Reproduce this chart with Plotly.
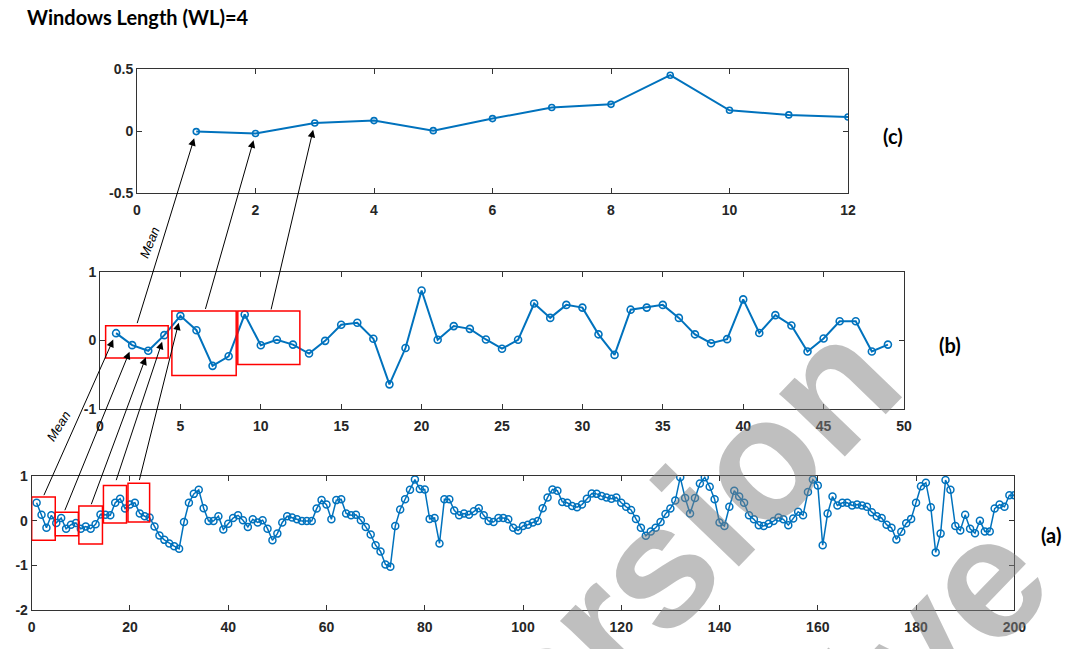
import plotly.graph_objects as go

# ---------------- data ----------------
c_x = list(range(1, 13))
c_vals = [-0.005, -0.02, 0.065, 0.084, 0.003, 0.10, 0.19, 0.215, 0.45, 0.167, 0.13, 0.113]

b_x = list(range(1, 50))
b_vals = [0.107, -0.068, -0.15, 0.078, 0.36, 0.15, -0.37, -0.23, 0.38, -0.07,
          0.01, -0.06, -0.19, -0.005, 0.23, 0.26, 0.025, -0.64, -0.11, 0.73,
          0.01, 0.21, 0.17, 0.015, -0.12, 0.01, 0.54, 0.33, 0.52, 0.48,
          0.09, -0.21, 0.45, 0.48, 0.52, 0.33, 0.09, -0.04, 0.02, 0.60,
          0.11, 0.37, 0.22, -0.16, 0.03, 0.28, 0.28, -0.16, -0.06]

a_x = list(range(1, 201))
a_vals = [0.40, 0.13, -0.16, 0.12, -0.05, 0.06, -0.18, -0.09, -0.05, -0.18,
          -0.13, -0.18, -0.08, 0.14, 0.13, 0.12, 0.40, 0.49, 0.27, 0.36,
          0.40, 0.16, 0.10, 0.07, -0.13, -0.33, -0.43, -0.51, -0.57, -0.63,
          -0.03, 0.40, 0.60, 0.69, 0.28, -0.01, -0.01, 0.10, -0.20, -0.07,
          0.06, 0.12, 0.01, -0.14, 0.03, -0.04, 0.01, -0.18, -0.44, -0.29,
          -0.04, 0.10, 0.07, 0.03, -0.01, -0.01, -0.01, 0.27, 0.46, 0.36,
          0.03, 0.46, 0.48, 0.16, 0.12, 0.13, 0.01, -0.14, -0.31, -0.55,
          -0.69, -0.98, -1.03, -0.12, 0.25, 0.48, 0.69, 0.92, 0.71, 0.70,
          0.04, 0.06, -0.51, 0.48, 0.48, 0.23, 0.12, 0.16, 0.13, 0.21,
          0.28, 0.12, -0.01, -0.03, 0.06, 0.06, 0.03, -0.16, -0.22, -0.12,
          -0.09, -0.04, -0.01, 0.28, 0.52, 0.70, 0.67, 0.42, 0.40, 0.33,
          0.30, 0.36, 0.49, 0.61, 0.60, 0.55, 0.52, 0.49, 0.52, 0.40,
          0.31, 0.24, 0.04, -0.16, -0.34, -0.24, -0.16, -0.03, 0.15, 0.27,
          0.45, 0.97, 0.51, 0.16, 0.51, 0.83, 0.97, 0.76, 0.48, -0.04,
          -0.12, 0.31, 0.67, 0.54, 0.40, 0.12, 0.03, -0.10, -0.12, -0.07,
          -0.01, 0.07, 0.03, -0.10, 0.05, 0.20, 0.12, 0.64, 0.92, 0.79,
          -0.55, 0.16, 0.54, 0.34, 0.40, 0.40, 0.34, 0.36, 0.34, 0.31,
          0.19, 0.10, 0.06, -0.09, -0.16, -0.42, -0.25, -0.06, 0.04, 0.40,
          0.77, 0.85, 0.30, -0.71, -0.29, 0.91, 0.69, -0.12, -0.22, 0.13,
          -0.18, -0.28, 0.00, -0.24, -0.24, 0.27, 0.36, 0.31, 0.57, 0.57]

# tick labels
c_xticks = [0, 2, 4, 6, 8, 10, 12]
c_yticks = [-0.5, 0, 0.5]
c_yticktext = ["-0.5", "0", "0.5"]
b_xticks = [0, 5, 10, 15, 20, 25, 30, 35, 40, 45, 50]
b_yticks = [-1, 0, 1]
b_yticktext = ["-1", "0", "1"]
a_xticks = [0, 20, 40, 60, 80, 100, 120, 140, 160, 180, 200]
a_yticks = [-2, -1, 0, 1]
a_yticktext = ["-2", "-1", "0", "1"]

title_text = "Windows Length (WL)=4"
panel_labels = ["(a)", "(b)", "(c)"]

# windows (data units) highlighted with red boxes: (x0, x1, y0, y1)
a_boxes = [(0.0, 4.8, -0.44, 0.53), (4.8, 9.5, -0.34, 0.19), (9.6, 14.4, -0.52, 0.33),
           (14.6, 19.3, -0.05, 0.79), (19.6, 24.0, -0.03, 0.84)]
b_boxes = [(0.35, 4.24, -0.254, 0.215), (4.47, 8.47, -0.51, 0.43), (8.57, 12.43, -0.35, 0.43)]

# ---------------- figure ----------------
W, H = 1069, 649
BLUE = "#0072BD"
fig = go.Figure()

fig.add_trace(go.Scatter(x=a_x, y=a_vals, mode="lines+markers", xaxis="x", yaxis="y",
                         line=dict(color=BLUE, width=1.5),
                         marker=dict(symbol="circle-open", size=7, color=BLUE, line=dict(width=1.5)),
                         showlegend=False))
fig.add_trace(go.Scatter(x=b_x, y=b_vals, mode="lines+markers", xaxis="x2", yaxis="y2",
                         line=dict(color=BLUE, width=2),
                         marker=dict(symbol="circle-open", size=7, color=BLUE, line=dict(width=1.6)),
                         showlegend=False))
fig.add_trace(go.Scatter(x=c_x, y=c_vals, mode="lines+markers", xaxis="x3", yaxis="y3",
                         line=dict(color=BLUE, width=2),
                         marker=dict(symbol="circle-open", size=6, color=BLUE, line=dict(width=1.6)),
                         showlegend=False))

tickfont = dict(family="Liberation Sans, Arial, sans-serif", size=14, color="#262626", weight="bold")
axcommon = dict(showline=True, linecolor="#333333", linewidth=1, mirror="ticks",
                ticks="inside", ticklen=5, tickcolor="#333333", showgrid=False,
                zeroline=False, tickfont=tickfont, automargin=False)

def px_dom(a, b, total, flip=False):
    if flip:
        return [1 - b / total, 1 - a / total]
    return [a / total, b / total]

fig.update_layout(
    width=W, height=H, autosize=False,
    margin=dict(l=0, r=0, t=0, b=0, pad=0),
    paper_bgcolor="white", plot_bgcolor="white",
    xaxis=dict(domain=px_dom(31.7, 1014.3, W), range=[0, 200], tickvals=a_xticks,
               anchor="y", ticklabelstandoff=4, **axcommon),
    yaxis=dict(domain=px_dom(476, 610, H, True), range=[-2, 1], tickvals=a_yticks,
               ticktext=a_yticktext, anchor="x", **axcommon),
    xaxis2=dict(domain=px_dom(100, 904, W), range=[0, 50], tickvals=b_xticks,
                anchor="y2", ticklabelstandoff=4, **axcommon),
    yaxis2=dict(domain=px_dom(272, 409, H, True), range=[-1, 1], tickvals=b_yticks,
                ticktext=b_yticktext, anchor="x2", **axcommon),
    xaxis3=dict(domain=px_dom(137, 848, W), range=[0, 12], tickvals=c_xticks,
                anchor="y3", ticklabelstandoff=4, **axcommon),
    yaxis3=dict(domain=px_dom(69, 193, H, True), range=[-0.5, 0.5], tickvals=c_yticks,
                ticktext=c_yticktext, anchor="x3", **axcommon),
)

shapes = []
for (x0, x1, y0, y1) in a_boxes:
    shapes.append(dict(type="rect", xref="x", yref="y", x0=x0, x1=x1, y0=y0, y1=y1,
                       line=dict(color="red", width=1.5)))
for (x0, x1, y0, y1) in b_boxes:
    shapes.append(dict(type="rect", xref="x2", yref="y2", x0=x0, x1=x1, y0=y0, y1=y1,
                       line=dict(color="red", width=1.5)))
fig.update_layout(shapes=shapes)

annotations = []
# arrows from windows in (b) to means in (c): tail offsets in pixels
bc_tails = [(-59.5, 193), (-50.5, 177), (-44, 188)]
for i, (ax, ay) in enumerate(bc_tails):
    annotations.append(dict(x=c_x[i], y=c_vals[i], xref="x3", yref="y3", ax=ax, ay=ay,
                            axref="pixel", ayref="pixel", showarrow=True, arrowhead=2,
                            arrowsize=1.5, arrowwidth=1, arrowcolor="black", standoff=7, text=""))
# arrows from windows in (a) to means in (b)
ab_tails = [(-72.8, 163.5), (-67.9, 166.6), (-57.5, 155), (-48.6, 146.5), (-41.4, 165.7)]
for i, (ax, ay) in enumerate(ab_tails):
    annotations.append(dict(x=b_x[i], y=b_vals[i], xref="x2", yref="y2", ax=ax, ay=ay,
                            axref="pixel", ayref="pixel", showarrow=True, arrowhead=2,
                            arrowsize=1.5, arrowwidth=1, arrowcolor="black", standoff=7, text=""))

def ptext(txt, px, py, font, angle=0, xanchor="center"):
    return dict(x=px / W, y=1 - py / H, xref="paper", yref="paper", text=txt,
                showarrow=False, textangle=angle, font=font,
                xanchor=xanchor, yanchor="middle")

mean_font = dict(family="Liberation Sans, Arial, sans-serif", size=13, color="black", style="italic")
annotations.append(ptext("Mean", 150, 243, mean_font, -68))
annotations.append(ptext("Mean", 58, 426, mean_font, -58))

lab_font = dict(family="Lato, Carlito, sans-serif", size=20, color="black", weight="bold")
for txt, (px, py) in zip(panel_labels, [(1051, 535), (950, 345), (893, 136)]):
    annotations.append(ptext(txt, px, py, lab_font))

annotations.append(ptext(title_text, 25, 17,
                         dict(family="Lato, Carlito, sans-serif", size=20, color="black", weight="bold"),
                         xanchor="left"))

# watermark
wm_font = dict(family="Liberation Sans, Arial, sans-serif", size=172,
               color="rgba(128,128,128,0.5)", weight="bold")
annotations.append(ptext("version", 654, 568, wm_font, -46))
annotations.append(ptext("archive", 807, 763, wm_font, -46))

fig.update_layout(annotations=annotations)

fig.write_html("out.html", config={"displayModeBar": False},
               post_script="document.body.style.margin='0px';document.body.style.padding='0px';"
                           "document.body.style.overflow='hidden';")
